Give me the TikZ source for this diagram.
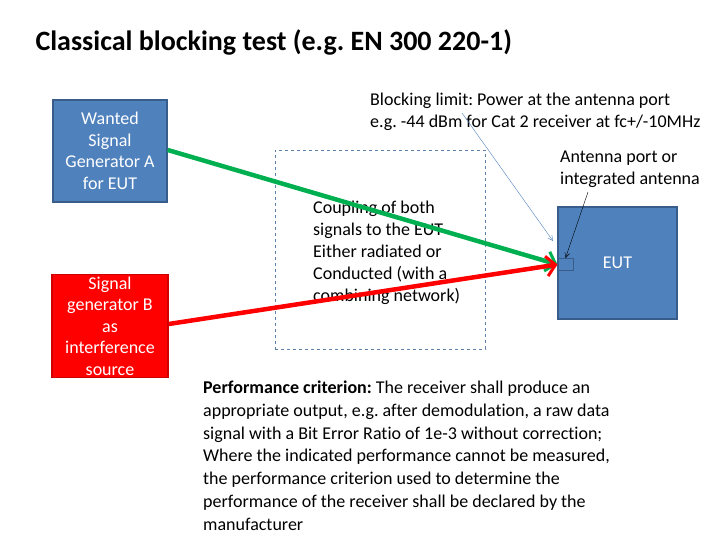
\documentclass[tikz,border=0pt]{standalone}
\usepackage{fontspec}
\setmainfont{Carlito}[Ligatures=NoCommon]
\usepackage{tikz}
\usetikzlibrary{shapes,arrows.meta,calc,positioning}
\definecolor{boxblue}{HTML}{4F81BD}
\definecolor{boxedge}{HTML}{385D8A}
\definecolor{boxred}{HTML}{FF0000}
\definecolor{rededge}{HTML}{D00000}
\definecolor{wanted}{HTML}{00B050}
\definecolor{framegray}{HTML}{5E7FA8}
\tikzstyle{gen} = [draw, rectangle, line width=1.5pt, text=white, align=center, inner sep=0pt,
  font=\fontsize{18}{21.5}\selectfont]
\tikzstyle{note} = [align=left, inner sep=0pt, font=\fontsize{18}{22}\selectfont]
\tikzstyle{signal} = [line width=4.5pt, -{Straight Barb[length=9pt,width=20pt,line width=3pt]}]
\tikzstyle{pointer} = [thin, -{Straight Barb[length=5pt,width=5pt]}]

\begin{document}
\frenchspacing
\begin{tikzpicture}[x=1pt, y=-1pt]
        \useasboundingbox (0,0) rectangle (720,540);
        \node[anchor=west, font=\fontsize{28}{32}\selectfont\bfseries] (title) at (32,42) {Classical blocking test (e.g. EN 300 220-1)};
        \node[gen, fill=boxblue, draw=boxedge, minimum width=114pt, minimum height=102pt] (genA) at (110,151)
            {Wanted\\Signal\\Generator A\\for EUT};
        \node[gen, fill=boxred, draw=rededge, minimum width=116pt, minimum height=103pt] (genB) at (110,326)
            {Signal\\generator B\\as\\interference\\source};
        \node[draw=framegray, dashed, thin, rectangle, minimum width=210pt, minimum height=199pt] (coupling) at (380,249.5) {};
        \node[note, anchor=north west] (couplingtext) at (313,201)
            {Coupling of both\\signals to the EUT\\Either radiated or\\Conducted (with a\\combining network)};
        \node[gen, fill=boxblue, draw=boxedge, minimum width=119pt, minimum height=112pt] (eut) at (617.5,263) {EUT};
        \node[draw=boxedge, fill=boxblue, line width=1pt, rectangle, minimum width=15pt, minimum height=12pt, inner sep=0pt] (port) at (565.5,264.5) {};
        \node[note, anchor=north west] (blocking) at (370,93)
            {Blocking limit: Power at the antenna port\\e.g. -44 dBm for Cat 2 receiver at fc+/-10MHz};
        \node[note, anchor=north west] (antenna) at (560,151)
            {Antenna port or\\integrated antenna};
        \node[note, anchor=north west, font=\fontsize{18}{22.7}\selectfont] (criterion) at (203,381)
            {\textbf{Performance criterion:} The receiver shall produce an\\appropriate output, e.g. after demodulation, a raw data\\signal with a Bit Error Ratio of 1e-3 without correction;\\Where the indicated performance cannot be measured,\\the performance criterion used to determine the\\performance of the receiver shall be declared by the\\manufacturer};
        \coordinate (blkfrom) at (462,113);
        \coordinate (blkto) at (553,241);
        \coordinate (antfrom) at (588,192);
        \path[draw=wanted, signal] (genA.east |- 0,150) -- (port.west);
        \path[draw=boxred, signal] (genB.east |- 0,324) -- (port.west);
        \path[draw=boxblue, pointer] (blkfrom) -- (blkto);
        \path[draw=black, pointer] (antfrom) -- (port.north);
    \end{tikzpicture}
\end{document}
